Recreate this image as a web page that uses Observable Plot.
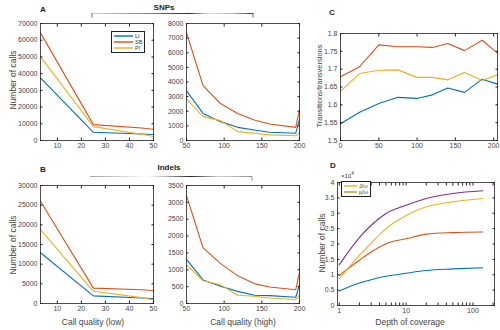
<!DOCTYPE html>
<html><head><meta charset="utf-8">
<script src="https://cdn.jsdelivr.net/npm/d3@7"></script>
<script src="https://cdn.jsdelivr.net/npm/@observablehq/plot@0.6"></script>
<style>
body{margin:0;background:#fff;font-family:"Liberation Sans",Arial,sans-serif;}
#wrap{position:relative;width:500px;height:330px;overflow:hidden;background:#fff;}
.t{position:absolute;white-space:nowrap;color:#222;}
.letter{font-size:8px;font-weight:bold;}
.lab{font-size:8.5px;color:#444;transform:translate(-50%,-50%);}
.rot{transform:translate(-50%,-50%) rotate(-90deg);}
.leg{position:absolute;border:0.8px solid #222;background:#fff;font-size:5.5px;line-height:6px;padding:1px 2px;color:#333;}
.leg div{display:flex;align-items:center;height:6px;}
</style></head><body><div id="wrap"></div>
<script>
// ---------- data ----------
const groups = ["LI", "SB", "PI"];
const groupColors = ["#0072BD", "#D95319", "#EDB120"];

// Panel A (SNPs) - low call quality
const lowQ = [3, 25, 45, 50];
const snpLow_LI = [37500, 4900, 3900, 3600];
const snpLow_SB = [64400, 9500, 7500, 6700];
const snpLow_PI = [50200, 8300, 3700, 2400];
// Panel A (SNPs) - high call quality
const highQ = [50, 72, 95, 118, 140, 160, 195, 200];
const snpHigh_LI = [3390, 1850, 1290, 900, 720, 565, 500, 1450];
const snpHigh_SB = [7370, 3750, 2530, 1850, 1400, 1130, 900, 2120];
const snpHigh_PI = [2850, 1630, 1360, 610, 500, 385, 320, 540];
// Panel B (Indels) - low call quality
const indelLow_LI = [12900, 1940, 1400, 1260];
const indelLow_SB = [26000, 3900, 3500, 3300];
const indelLow_PI = [18800, 3100, 1500, 900];
// Panel B (Indels) - high call quality
const indelHigh_LI = [1310, 700, 510, 360, 245, 235, 185, 560];
const indelHigh_SB = [3200, 1650, 1190, 820, 590, 490, 410, 920];
const indelHigh_PI = [1145, 675, 560, 245, 215, 165, 120, 235];
// Panel C - transitions/transversions
const tsQ = [0, 25, 50, 75, 100, 120, 140, 162, 185, 205];
const tstv_LI = [1.547, 1.579, 1.604, 1.621, 1.618, 1.628, 1.647, 1.635, 1.672, 1.658];
const tstv_SB = [1.679, 1.707, 1.768, 1.763, 1.763, 1.761, 1.772, 1.752, 1.781, 1.745];
const tstv_PI = [1.638, 1.688, 1.697, 1.698, 1.677, 1.677, 1.670, 1.691, 1.668, 1.684];
// Panel D - number of calls (x 10^4) vs depth of coverage
const depth = [1, 2, 3, 5, 10, 20, 50, 140];
const dGroups = ["LI", "SB", "PI", "All"];
const dColors = ["#0072BD", "#D95319", "#EDB120", "#7E2F8E"];
const cov_LI = [0.47, 0.73, 0.84, 0.95, 1.05, 1.14, 1.19, 1.23];
const cov_SB = [0.98, 1.47, 1.74, 2.01, 2.17, 2.32, 2.37, 2.39];
const cov_PI = [0.87, 1.63, 2.03, 2.50, 2.93, 3.21, 3.37, 3.48];
const cov_All = [1.33, 2.21, 2.61, 2.99, 3.26, 3.48, 3.64, 3.73];
const legendD = ["J/ω", "μ/ω"];
const legendDColors = ["#EDB120", "#B8962E"];

// tick values
const lowTicks = [10, 20, 30, 40, 50];
const highTicks = [50, 100, 150, 200];
const snpLowYTicks = [0, 10000, 20000, 30000, 40000, 50000, 60000, 70000];
const snpHighYTicks = [0, 1000, 2000, 3000, 4000, 5000, 6000, 7000, 8000];
const indelLowYTicks = [0, 5000, 10000, 15000, 20000, 25000, 30000];
const indelHighYTicks = [0, 500, 1000, 1500, 2000, 2500, 3000, 3500];
const tsXTicks = [0, 50, 100, 150, 200];
const tsYTicks = [1.5, 1.55, 1.6, 1.65, 1.7, 1.75, 1.8];
const depthTicks = [1,2,3,4,5,6,7,8,9,10,20,30,40,50,60,70,80,90,100,200];
const depthLabeled = [1, 10, 100];
const covYTicks = [0, 0.5, 1, 1.5, 2, 2.5, 3, 3.5, 4];

// ---------- helpers ----------
function longData(xs, arrs, names){
  return arrs.flatMap((a, i) => a.map((v, j) => ({x: xs[j], y: v, s: names[i]})));
}
const wrap = document.getElementById("wrap");
const fmt = d => String(+d.toFixed(2));

function panel(o){
  const svg = Plot.plot({
    width: o.w, height: o.h,
    marginLeft: o.ml, marginRight: o.mr, marginTop: o.mt, marginBottom: o.mb,
    style: {fontSize: "7px", fontFamily: "Liberation Sans, Arial, sans-serif", color: "#444", background: "transparent", overflow: "visible"},
    x: Object.assign({}, o.x),
    y: Object.assign({}, o.y),
    color: {domain: o.names, range: o.colors},
    marks: [
      Plot.line(o.data, {x: "x", y: "y", stroke: "s", strokeWidth: 1.1, curve: o.curve || "linear"}),
      Plot.frame({stroke: "#222", strokeWidth: 0.8}),
      Plot.axisX({ticks: o.xt, tickSize: -2.5, tickPadding: 5.5, tickFormat: o.xf || fmt, label: null, stroke: "#222"}),
      Plot.axisX({anchor: "top", ticks: o.xt, tickSize: -2.5, tickFormat: () => "", label: null, stroke: "#222"}),
      Plot.axisY({ticks: o.yt, tickSize: -2.5, tickPadding: 5.5, tickFormat: o.yf || fmt, label: null, stroke: "#222"}),
      Plot.axisY({anchor: "right", ticks: o.yt, tickSize: -2.5, tickFormat: () => "", label: null, stroke: "#222"})
    ]
  });
  svg.style.position = "absolute";
  svg.style.left = o.left + "px";
  svg.style.top = o.top + "px";
  wrap.appendChild(svg);
}
function text(str, x, y, cls, extra){
  const d = document.createElement("div");
  d.className = "t " + cls;
  d.style.left = x + "px"; d.style.top = y + "px";
  if (extra) Object.assign(d.style, extra);
  d.innerHTML = str;
  wrap.appendChild(d);
  return d;
}

// ---------- panels ----------
panel({left: 0, top: 0, w: 160, h: 152, ml: 40, mr: 7, mt: 23, mb: 12,
  x: {domain: [3, 50]}, y: {domain: [0, 70000]},
  xt: lowTicks, yt: snpLowYTicks, names: groups, colors: groupColors,
  data: longData(lowQ, [snpLow_LI, snpLow_SB, snpLow_PI], groups)});
panel({left: 150, top: 0, w: 155, h: 152, ml: 36, mr: 6, mt: 23, mb: 12,
  x: {domain: [50, 200]}, y: {domain: [0, 8000]},
  xt: highTicks, yt: snpHighYTicks, names: groups, colors: groupColors,
  data: longData(highQ, [snpHigh_LI, snpHigh_SB, snpHigh_PI], groups)});
panel({left: 305, top: 0, w: 195, h: 152, ml: 35, mr: 3, mt: 33, mb: 12,
  x: {domain: [0, 205]}, y: {domain: [1.5, 1.8]},
  xt: tsXTicks, yt: tsYTicks, names: groups, colors: groupColors,
  data: longData(tsQ, [tstv_LI, tstv_SB, tstv_PI], groups)});
panel({left: 0, top: 150, w: 160, h: 165, ml: 40, mr: 7, mt: 35, mb: 12,
  x: {domain: [3, 50]}, y: {domain: [0, 30000]},
  xt: lowTicks, yt: indelLowYTicks, names: groups, colors: groupColors,
  data: longData(lowQ, [indelLow_LI, indelLow_SB, indelLow_PI], groups)});
panel({left: 150, top: 150, w: 155, h: 165, ml: 36, mr: 6, mt: 35, mb: 12,
  x: {domain: [50, 200]}, y: {domain: [0, 3500]},
  xt: highTicks, yt: indelHighYTicks, names: groups, colors: groupColors,
  data: longData(highQ, [indelHigh_LI, indelHigh_SB, indelHigh_PI], groups)});
panel({left: 305, top: 150, w: 195, h: 167, ml: 32, mr: 6, mt: 32, mb: 12,
  x: {type: "log", domain: [0.94, 210]}, y: {domain: [0, 4]},
  xt: depthTicks, yt: covYTicks, names: dGroups, colors: dColors, curve: "monotone-x",
  xf: d => depthLabeled.includes(d) ? String(d) : "",
  data: longData(depth, [cov_LI, cov_SB, cov_PI, cov_All], dGroups)});

// ---------- text ----------
text("A", 40, 5, "letter");
text("B", 40, 165, "letter");
text("C", 329, 8, "letter");
text("D", 330, 161, "letter");
text("SNPs", 164, 7, "lab", {fontWeight: "bold", fontSize: "8px", color: "#222"});
text("Indels", 169, 167, "lab", {fontWeight: "bold", fontSize: "8px", color: "#222"});
text("Number of calls", 13, 80, "lab rot");
text("Number of calls", 13, 245, "lab rot");
text("Transitions/transversions", 319, 86, "lab rot", {fontSize: "7.5px"});
text("Number of calls", 322, 243, "lab rot");
text("Call quality (low)", 93, 322, "lab");
text("Call quality (high)", 243, 322, "lab");
text("Depth of coverage", 410, 322, "lab");
text("×10<sup style='font-size:4.5px'>4</sup>", 341, 171, "", {fontSize: "6px", color: "#333"});

// legends
function legend(x, y, names, colors, w){
  const d = document.createElement("div");
  d.className = "leg";
  d.style.left = x + "px"; d.style.top = y + "px";
  names.forEach((n, i) => {
    const r = document.createElement("div");
    r.innerHTML = `<svg width="${w}" height="4"><line x1="0" x2="${w}" y1="2" y2="2" stroke="${colors[i]}" stroke-width="1.4"/></svg><span style="margin-left:2px">${n}</span>`;
    r.style.height = "6px";
    d.appendChild(r);
  });
  wrap.appendChild(d);
}
legend(111, 31, groups, groupColors, 19);
legend(341, 181, legendD, legendDColors, 13);

// decorative brackets under headers
const ns = "http://www.w3.org/2000/svg";
const ov = document.createElementNS(ns, "svg");
ov.setAttribute("width", 500); ov.setAttribute("height", 330);
ov.style.position = "absolute"; ov.style.left = "0"; ov.style.top = "0"; ov.style.pointerEvents = "none";
ov.innerHTML = `
<defs>
<linearGradient id="g1" gradientUnits="userSpaceOnUse" x1="92" x2="253" y1="0" y2="0"><stop offset="0" stop-color="#ccc"/><stop offset="0.35" stop-color="#777"/><stop offset="0.6" stop-color="#111"/><stop offset="0.72" stop-color="#ddd"/><stop offset="0.88" stop-color="#aaa"/><stop offset="1" stop-color="#222"/></linearGradient>
<linearGradient id="g2" gradientUnits="userSpaceOnUse" x1="90" x2="252" y1="0" y2="0"><stop offset="0" stop-color="#999"/><stop offset="0.25" stop-color="#ddd"/><stop offset="0.35" stop-color="#fff"/><stop offset="0.45" stop-color="#bbb"/><stop offset="0.62" stop-color="#111"/><stop offset="0.8" stop-color="#ccc"/><stop offset="1" stop-color="#888"/></linearGradient>
</defs>
<line x1="92" x2="253" y1="13.5" y2="13.5" stroke="url(#g1)" stroke-width="0.9"/>
<line x1="92" x2="92" y1="13" y2="17.5" stroke="#444" stroke-width="0.8"/>
<line x1="253" x2="253" y1="13" y2="17.5" stroke="#444" stroke-width="0.8"/>
<line x1="90" x2="252" y1="176.5" y2="176.5" stroke="url(#g2)" stroke-width="0.9"/>
<line x1="252" x2="252" y1="176" y2="181" stroke="#888" stroke-width="0.8"/>
`;
wrap.appendChild(ov);
</script></body></html>
